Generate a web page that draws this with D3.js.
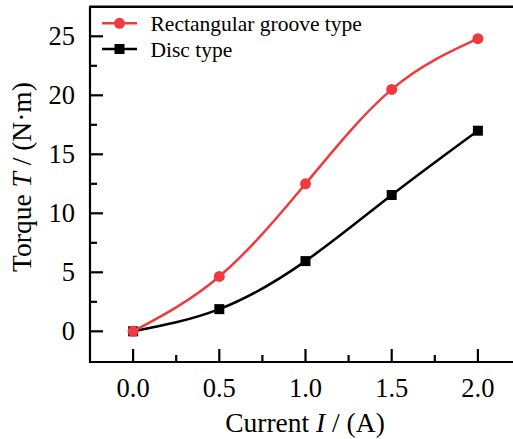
<!DOCTYPE html>
<html><head><meta charset="utf-8">
<script src="https://cdn.jsdelivr.net/npm/d3@7"></script>
<style>body{margin:0;background:#fff;overflow:hidden}svg{display:block}text{font-family:"Liberation Serif","Times New Roman",serif;fill:#000}</style>
</head><body>
<svg id="c" width="513" height="439"></svg>
<script>
const currents = [0, 0.5, 1.0, 1.5, 2.0];
const rectGroove = [0, 4.65, 12.5, 20.5, 24.8];
const disc = [0, 1.88, 5.95, 11.55, 17.0];
const xTicks = [0, 0.5, 1.0, 1.5, 2.0];
const xMinor = [0.25, 0.75, 1.25, 1.75];
const yTicks = [0, 5, 10, 15, 20, 25];
const yMinor = [2.5, 7.5, 12.5, 17.5, 22.5];
const seriesNames = ["Rectangular groove type", "Disc type"];

const svg = d3.select("#c");
const L = 90, T = 6.8, B = 362, R = 521;
const x = d3.scaleLinear().domain([-0.25, 2.25]).range([L, R]);
const y = d3.scaleLinear().domain([-2.6, 27.5]).range([B, T]);

const red = "#ef3b3e";

const line = d3.line().x(d => x(d[0])).y(d => y(d[1])).curve(d3.curveNatural);
const sets = [
  {vals: rectGroove, color: red, shape: "circle"},
  {vals: disc, color: "#000", shape: "square"}
];
[sets[1], sets[0]].forEach(s => {
  const pts = currents.map((c, i) => [c, s.vals[i]]);
  svg.append("path").attr("d", line(pts)).attr("fill", "none")
    .attr("stroke", s.color).attr("stroke-width", 2.5);
  pts.forEach(p => {
    if (s.shape === "circle") {
      svg.append("circle").attr("cx", x(p[0])).attr("cy", y(p[1])).attr("r", 5.5).attr("fill", s.color);
    } else {
      svg.append("rect").attr("x", x(p[0]) - 5).attr("y", y(p[1]) - 5).attr("width", 10).attr("height", 10).attr("fill", s.color);
    }
  });
});

const g = svg.append("g").attr("stroke", "#000").attr("stroke-width", 2.2);
g.append("line").attr("x1", L).attr("x2", L).attr("y1", T - 1.1).attr("y2", B + 1.1);
g.append("line").attr("x1", L).attr("x2", 513).attr("y1", B).attr("y2", B);
g.append("line").attr("x1", L).attr("x2", 513).attr("y1", T).attr("y2", T).attr("stroke-width", 2.6);
xTicks.forEach(t => g.append("line").attr("x1", x(t)).attr("x2", x(t)).attr("y1", B).attr("y2", B - 13));
xMinor.forEach(t => g.append("line").attr("x1", x(t)).attr("x2", x(t)).attr("y1", B).attr("y2", B - 7));
yTicks.forEach(t => g.append("line").attr("y1", y(t)).attr("y2", y(t)).attr("x1", L).attr("x2", L + 13));
yMinor.forEach(t => g.append("line").attr("y1", y(t)).attr("y2", y(t)).attr("x1", L).attr("x2", L + 7));

xTicks.forEach(t => svg.append("text").attr("x", x(t)).attr("y", 397).attr("text-anchor", "middle")
  .attr("font-size", 26.5).text(d3.format(".1f")(t)));
yTicks.forEach(t => svg.append("text").attr("x", 75).attr("y", y(t) + 8.8).attr("text-anchor", "end")
  .attr("font-size", 26.5).text(t));

const xt = svg.append("text").attr("x", 305).attr("y", 432).attr("text-anchor", "middle").attr("font-size", 27.5);
xt.append("tspan").text("Current ");
xt.append("tspan").attr("font-style", "italic").text("I");
xt.append("tspan").text(" / (A)");

const yt = svg.append("text").attr("transform", "translate(31,177) rotate(-90)").attr("text-anchor", "middle").attr("font-size", 27.5);
yt.append("tspan").text("Torque ");
yt.append("tspan").attr("font-style", "italic").text("T");
yt.append("tspan").text(" / (N\u00b7m)");

sets.forEach((s, i) => {
  const ly = 23.3 + i * 25.7;
  svg.append("line").attr("x1", 102).attr("x2", 137).attr("y1", ly).attr("y2", ly)
    .attr("stroke", s.color).attr("stroke-width", 2.5);
  if (s.shape === "circle") svg.append("circle").attr("cx", 119.5).attr("cy", ly).attr("r", 5.5).attr("fill", s.color);
  else svg.append("rect").attr("x", 114.5).attr("y", ly - 5).attr("width", 10).attr("height", 10).attr("fill", s.color);
  svg.append("text").attr("x", 150.5).attr("y", ly + 8).attr("font-size", 21.5).text(seriesNames[i]);
});
</script>
</body></html>
